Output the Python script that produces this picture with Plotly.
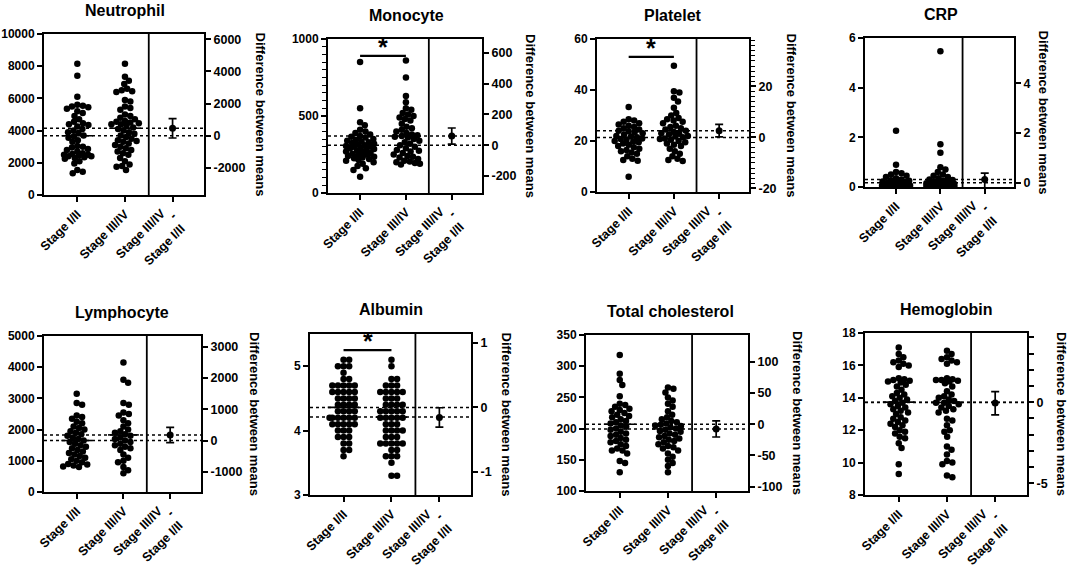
import math
import plotly.graph_objects as go

W, H = 1072, 569
FONT = "Liberation Sans, Arial, sans-serif"

titles = ["Neutrophil", "Monocyte", "Platelet", "CRP",
          "Lymphocyte", "Albumin", "Total cholesterol", "Hemoglobin"]
categories = ["Stage I/II", "Stage III/IV", ""]
diff_label = ["Stage III/IV", "-", "Stage I/II"]

neutrophil_g1 = [8150, 7400, 6100, 5600, 5550, 5500, 5450, 5350, 5200, 5100, 4900, 4700, 4550, 4450,
                 4400, 4350, 4250, 4100, 4000, 3900, 3850, 3700, 3650, 3550, 3400, 3300, 3050, 3000,
                 2950, 2850, 2800, 2700, 2600, 2550, 2500, 2500, 2450, 2400, 2400, 2350, 2300, 2250,
                 2100, 1950, 1550, 1450, 1350]
neutrophil_g2 = [8150, 7350, 7100, 6900, 6600, 6500, 6450, 6400, 5900, 5800, 5500, 5400, 5300, 5000,
                 4900, 4800, 4700, 4600, 4550, 4500, 4450, 4400, 4400, 4300, 4200, 4100, 4000, 3900,
                 3800, 3700, 3600, 3500, 3400, 3350, 3300, 3200, 3100, 3000, 2900, 2800, 2700, 2600,
                 2500, 2300, 2100, 1900, 1800, 1750, 1550]
monocyte_g1 = [850, 550, 460, 440, 410, 400, 390, 380, 370, 365, 360, 350, 345, 340, 335, 330, 325,
               320, 315, 310, 305, 300, 300, 295, 290, 285, 280, 275, 270, 265, 260, 255, 250, 245,
               240, 235, 230, 225, 220, 215, 210, 200, 190, 175, 160, 150, 105]
monocyte_g2 = [860, 750, 630, 590, 550, 540, 520, 510, 500, 490, 480, 470, 450, 430, 420, 410, 400,
               390, 380, 375, 370, 365, 360, 350, 340, 330, 320, 310, 300, 290, 280, 275, 270, 260,
               250, 240, 235, 230, 220, 210, 205, 200, 195, 190, 185]
platelet_g1 = [33.3, 28.5, 28, 27.5, 27, 26.5, 26, 25.5, 25, 24.5, 24, 23.8, 23.5, 23, 22.5, 22, 21.8,
               21.5, 21, 20.8, 20.5, 20, 19.8, 19.5, 19, 18.5, 18, 17.5, 17, 16.5, 16, 15.5, 15, 14,
               13, 12.5, 12.3, 6]
platelet_g2 = [49.5, 39.5, 39, 37, 35.5, 33, 31, 30, 29, 28.5, 28, 27.5, 27, 26, 25.5, 25, 24.5, 24,
               23.5, 23, 22.8, 22.5, 22, 21.8, 21.5, 21, 20.8, 20.5, 20, 19.5, 19, 18.5, 18, 17, 16,
               15, 14, 13, 12.5, 12.2]
crp_g1 = [2.27, 0.9, 0.6, 0.55, 0.5, 0.45, 0.4, 0.35, 0.3, 0.27, 0.25, 0.22, 0.2, 0.18, 0.16, 0.15,
          0.14, 0.12, 0.11, 0.1, 0.1, 0.09, 0.08, 0.08, 0.07, 0.06, 0.06, 0.05, 0.05, 0.04, 0.04, 0.03,
          0.03, 0.02, 0.02, 0.01, 0.01, 0.0]
crp_g2 = [5.47, 1.72, 1.38, 0.8, 0.7, 0.6, 0.5, 0.45, 0.4, 0.35, 0.3, 0.28, 0.25, 0.22, 0.2, 0.18,
          0.15, 0.15, 0.12, 0.12, 0.1, 0.1, 0.09, 0.08, 0.08, 0.07, 0.06, 0.06, 0.05, 0.05, 0.04,
          0.04, 0.03, 0.03, 0.02, 0.02, 0.01, 0.01, 0.0]
lymphocyte_g1 = [3150, 2850, 2800, 2450, 2400, 2350, 2250, 2200, 2100, 2050, 2000, 1950, 1900, 1850,
                 1800, 1750, 1700, 1650, 1600, 1550, 1500, 1450, 1400, 1350, 1300, 1250, 1200, 1150,
                 1100, 1050, 1000, 950, 900, 880, 850, 820, 800]
lymphocyte_g2 = [4150, 3600, 3500, 2850, 2800, 2550, 2500, 2450, 2300, 2200, 2100, 2000, 1950, 1900,
                 1850, 1800, 1750, 1700, 1650, 1600, 1550, 1500, 1450, 1400, 1350, 1200, 1100, 1000,
                 950, 800, 700, 600]
albumin_g1 = [5.1, 5.1, 5.0, 5.0, 5.0, 4.9, 4.8, 4.8, 4.7, 4.7, 4.7, 4.7, 4.7, 4.6, 4.6, 4.6, 4.6, 4.6,
              4.5, 4.5, 4.5, 4.5, 4.4, 4.4, 4.4, 4.4, 4.3, 4.3, 4.3, 4.3, 4.2, 4.2, 4.2, 4.2, 4.2, 4.2,
              4.1, 4.1, 4.1, 4.1, 4.1, 4.0, 4.0, 4.0, 3.9, 3.9, 3.9, 3.8, 3.8, 3.7, 3.7, 3.6]
albumin_g2 = [5.1, 5.0, 4.8, 4.8, 4.7, 4.7, 4.7, 4.6, 4.6, 4.6, 4.6, 4.6, 4.5, 4.5, 4.5, 4.4, 4.4, 4.4,
              4.4, 4.3, 4.3, 4.3, 4.3, 4.3, 4.2, 4.2, 4.2, 4.2, 4.2, 4.1, 4.1, 4.1, 4.0, 4.0, 4.0, 4.0,
              3.9, 3.9, 3.9, 3.8, 3.8, 3.8, 3.8, 3.8, 3.7, 3.7, 3.6, 3.6, 3.6, 3.5, 3.3, 3.3]
cholesterol_g1 = [318, 288, 278, 270, 252, 240, 238, 235, 232, 230, 228, 225, 222, 220, 218, 215, 212,
                  210, 208, 205, 203, 200, 198, 195, 192, 190, 188, 185, 182, 180, 178, 175, 172, 168,
                  165, 165, 160, 148, 145, 130]
cholesterol_g2 = [266, 264, 258, 250, 245, 240, 235, 228, 222, 218, 215, 212, 210, 208, 206, 205, 204,
                  202, 200, 198, 196, 195, 192, 190, 188, 186, 184, 182, 180, 178, 175, 172, 170, 168,
                  165, 160, 155, 150, 145, 140, 130]
hemoglobin_g1 = [17.1, 16.7, 16.5, 16.3, 16.2, 16.1, 16.0, 15.9, 15.2, 15.15, 15.1, 15.05, 15.0, 14.95,
                 14.8, 14.7, 14.5, 14.3, 14.2, 14.1, 14.0, 13.9, 13.8, 13.7, 13.6, 13.5, 13.4, 13.3,
                 13.2, 13.1, 13.0, 12.8, 12.7, 12.6, 12.5, 12.4, 12.3, 12.2, 12.0, 11.9, 11.8, 11.6,
                 11.5, 11.2, 10.9, 9.9, 9.3]
hemoglobin_g2 = [16.9, 16.7, 16.5, 16.4, 16.3, 16.2, 16.1, 15.2, 15.15, 15.1, 15.1, 15.05, 15.0, 14.9,
                 14.7, 14.4, 14.2, 14.1, 14.0, 13.9, 13.8, 13.7, 13.7, 13.6, 13.5, 13.4, 13.3, 13.2,
                 13.1, 12.7, 12.6, 12.3, 12.0, 11.9, 11.6, 11.0, 10.8, 10.5, 10.1, 10.0, 9.9, 9.2, 9.1]

group1 = [neutrophil_g1, monocyte_g1, platelet_g1, crp_g1,
          lymphocyte_g1, albumin_g1, cholesterol_g1, hemoglobin_g1]
group2 = [neutrophil_g2, monocyte_g2, platelet_g2, crp_g2,
          lymphocyte_g2, albumin_g2, cholesterol_g2, hemoglobin_g2]

# summary values
mean_g1 = [3680, 310, 21.4, 0.17, 1650, 4.36, 207, 13.73]
mean_g2 = [4150, 370, 24.0, 0.30, 1830, 4.21, 199.5, 13.71]
diff_mean = [470, 60, 2.6, 0.13, 180, -0.155, -7.5, -0.05]
diff_err_plus = [590, 52, 2.5, 0.26, 240, 0.15, 13, 0.70]
diff_err_minus = [610, 52, 2.4, 0.50, 250, 0.15, 13, 0.74]
significance = [None, 890, 53, None, None, 5.25, None, None]

left_range = [[0, 10000], [0, 1000], [0, 60], [0, 6], [0, 5000], [3, 5.5], [100, 350], [8, 18]]
left_dtick = [2000, 500, 20, 2, 1000, 1, 50, 2]
left_minor = [None, 50, None, None, None, None, None, None]
right_dtick = [2000, 200, 20, 2, 1000, 1, 50, 1]
right_label_every = [1, 1, 1, 1, 1, 1, 1, 5]
right_minor = [None, None, 2, None, None, None, None, None]

# layout geometry in pixels: (left, right, top, bottom)
boxes = [(44, 204, 34, 195), (328, 482, 39, 193), (597, 749, 39, 192), (865, 1014, 38, 187),
         (44, 201, 336, 492), (310, 471, 334, 495), (586, 748, 335, 491), (865, 1027, 333, 495)]
title_pos = [(125, 11), (406, 15), (673, 15), (941, 14), (122, 312), (391, 309), (670, 311), (946, 309)]
ytitle_x = [260, 530, 791, 1043, 255, 506, 798, 1062]
XR = [-0.7, 2.66]
# centre offsets (px) of the three lines of the difference label from (tick, axis bottom)
diff_label_shift = [(-32, 39), (0, 21), (-8, 50)]

MS = 6.5      # marker size px
SEP = 5.6     # swarm separation px
MAXW = 14     # max swarm half-width px


def swarm(vals, ypx, xpx):
    order = sorted(range(len(vals)), key=lambda i: -vals[i])
    placed = []
    offs = [0.0] * len(vals)
    for idx in order:
        y = vals[idx] * ypx
        near = [(px, py) for px, py in placed if abs(py - y) < SEP]
        cands = [0.0]
        for px, py in near:
            dx = math.sqrt(max(SEP ** 2 - (py - y) ** 2, 0)) + 0.01
            cands += [px + dx, px - dx]
        cands.sort(key=lambda c: (abs(c), c < 0))
        chosen = None
        for c in cands:
            if abs(c) > MAXW:
                break
            if all((c - px) ** 2 + (y - py) ** 2 >= SEP ** 2 - 1e-6 for px, py in near):
                chosen = c
                break
        if chosen is None:
            best, bestd = 0.0, -1
            for k in range(-MAXW * 2, MAXW * 2 + 1):
                c = k / 2
                d = min((c - px) ** 2 + (y - py) ** 2 for px, py in near)
                if d > bestd + 1e-9:
                    best, bestd = c, d
            chosen = best
        offs[idx] = chosen / xpx
        placed.append((chosen, y))
    return offs


fig = go.Figure()
shapes = []
annotations = []
layout = {}
BLACK = "#000000"

for i in range(8):
    n = i + 1
    xa = "x" if n == 1 else f"x{n}"
    ya = "y" if n == 1 else f"y{n}"
    yr = f"y{n + 8}"
    L, R, T, B = boxes[i]
    ypx = (B - T) / (left_range[i][1] - left_range[i][0])
    xpx = (R - L) / (XR[1] - XR[0])
    for g, vals in enumerate([group1[i], group2[i]]):
        offs = swarm(vals, ypx, xpx)
        fig.add_trace(go.Scatter(x=[g + o for o in offs], y=vals, mode="markers",
                                 marker=dict(size=MS, color=BLACK), xaxis=xa, yaxis=ya,
                                 showlegend=False, hoverinfo="y"))
    fig.add_trace(go.Scatter(x=[2], y=[diff_mean[i]], mode="markers",
                             marker=dict(size=7, color=BLACK),
                             error_y=dict(type="data", array=[diff_err_plus[i]],
                                          arrayminus=[diff_err_minus[i]], color=BLACK,
                                          thickness=1.7, width=4),
                             xaxis=xa, yaxis=yr, showlegend=False))
    m1, m2 = mean_g1[i], mean_g2[i]
    for m in (m1, m2):
        shapes.append(dict(type="line", xref=f"{xa} domain", yref=ya, x0=0, x1=1, y0=m, y1=m,
                           line=dict(color=BLACK, width=1.5, dash="dot")))
    for g, m in enumerate((m1, m2)):
        shapes.append(dict(type="line", xref=xa, yref=ya, x0=g - 0.33, x1=g + 0.33, y0=m, y1=m,
                           line=dict(color=BLACK, width=1.6)))
    shapes.append(dict(type="line", xref=xa, yref=f"{ya} domain", x0=1.5, x1=1.5, y0=0, y1=1,
                       line=dict(color=BLACK, width=1.8)))
    if significance[i] is not None:
        s = significance[i]
        shapes.append(dict(type="line", xref=xa, yref=ya, x0=0, x1=1, y0=s, y1=s,
                           line=dict(color=BLACK, width=2.2)))
        annotations.append(dict(x=0.5, y=s, xref=xa, yref=ya, text="*", showarrow=False,
                                yanchor="bottom", yshift=-7, font=dict(size=25, color=BLACK)))
    annotations.append(dict(x=title_pos[i][0] / W, y=1 - title_pos[i][1] / H, xref="paper",
                            yref="paper", text=titles[i], showarrow=False, xanchor="center",
                            yanchor="middle", font=dict(size=16, color=BLACK)))
    annotations.append(dict(x=ytitle_x[i] / W, y=1 - (T + B) / 2 / H, xref="paper", yref="paper",
                            text="Difference between means", textangle=90, showarrow=False,
                            xanchor="center", yanchor="middle", font=dict(size=13, color=BLACK)))
    for txt, (dx, dy) in zip(diff_label, diff_label_shift):
        annotations.append(dict(x=2, y=0, xref=xa, yref=f"{ya} domain", text=txt, textangle=-45,
                                showarrow=False, xanchor="center", yanchor="middle",
                                xshift=dx, yshift=-dy, font=dict(size=12.5, color=BLACK)))

    xdom = [L / W, R / W]
    ydom = [1 - B / H, 1 - T / H]
    xkey = "xaxis" if n == 1 else f"xaxis{n}"
    ykey = "yaxis" if n == 1 else f"yaxis{n}"
    layout[xkey] = dict(domain=xdom, anchor=ya, range=XR, tickmode="array", tickvals=[0, 1, 2],
                        ticktext=categories, tickangle=-45, showline=True, linewidth=2,
                        linecolor=BLACK, mirror=True, ticks="outside", ticklen=5, tickwidth=1.6,
                        tickcolor=BLACK, showgrid=False, zeroline=False, fixedrange=True,
                        tickfont=dict(size=12.5, color=BLACK), automargin=False)
    ycfg = dict(domain=ydom, anchor=xa, range=left_range[i], dtick=left_dtick[i],
                tick0=left_range[i][0], showline=True, linewidth=2, linecolor=BLACK,
                ticks="outside", ticklen=5, tickwidth=1.6, tickcolor=BLACK, showgrid=False,
                zeroline=False, tickfont=dict(size=12, color=BLACK), automargin=False,
                tickformat="d")
    if left_minor[i]:
        ycfg["minor"] = dict(dtick=left_minor[i], ticks="outside", ticklen=4, tickwidth=1.2,
                             tickcolor=BLACK, showgrid=False)
    layout[ykey] = ycfg
    rr = [left_range[i][0] - m1, left_range[i][1] - m1]
    step = right_dtick[i]
    k0 = math.ceil(rr[0] / step)
    k1 = math.floor(rr[1] / step)
    tv = [k * step for k in range(k0, k1 + 1)]
    tt = [str(int(round(k * step))) if k % right_label_every[i] == 0 else ""
          for k in range(k0, k1 + 1)]
    rcfg = dict(anchor=xa, overlaying=ya, side="right", range=rr, showline=True, linewidth=2,
                linecolor=BLACK, ticks="outside", ticklen=5, tickwidth=1.6, tickcolor=BLACK,
                showgrid=False, zeroline=False, tickfont=dict(size=12.5, color=BLACK),
                automargin=False, tickmode="array", tickvals=tv, ticktext=tt)
    if right_minor[i]:
        rcfg["minor"] = dict(tickmode="linear", tick0=0, dtick=right_minor[i], ticks="outside",
                             ticklen=4, tickwidth=1.2, tickcolor=BLACK, showgrid=False)
    layout[f"yaxis{n + 8}"] = rcfg

fig.update_layout(**layout)
fig.update_layout(width=W, height=H, margin=dict(l=0, r=0, t=0, b=0),
                  paper_bgcolor="white", plot_bgcolor="white",
                  font=dict(family=FONT, size=12, color=BLACK, weight="bold"),
                  shapes=shapes, annotations=annotations, showlegend=False)
fig.write_html("out.html", config={"displayModeBar": False},
               post_script="document.body.style.margin='0';document.body.style.overflow='hidden';")
